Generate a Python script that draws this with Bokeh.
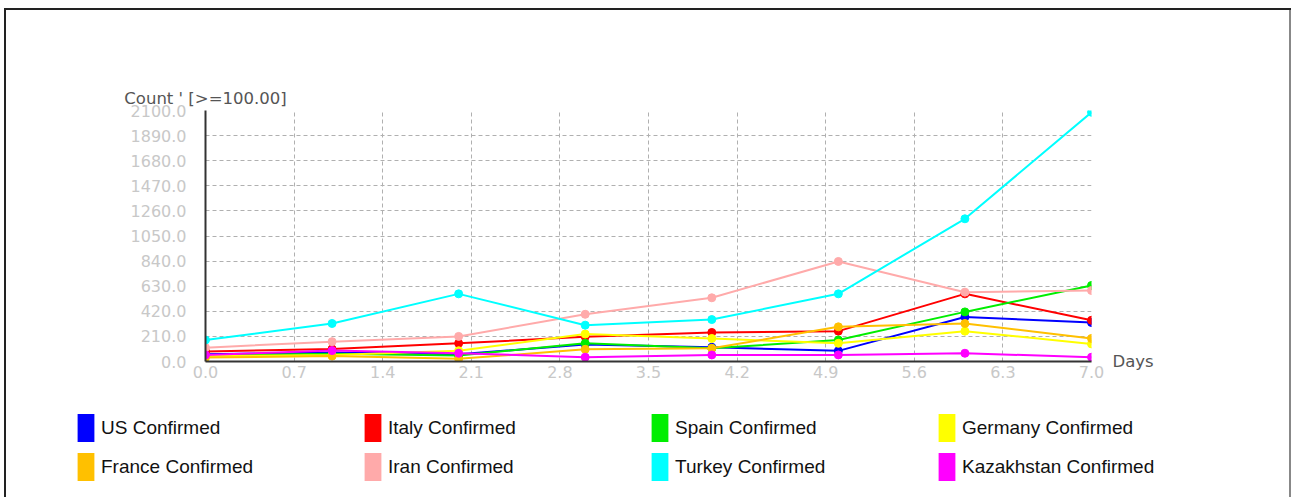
from bokeh.plotting import figure
from bokeh.layouts import column
from bokeh.models import (FixedTicker, NumeralTickFormatter, Legend, LegendItem, LinearAxis)
from bokeh.embed import file_html
from bokeh.resources import INLINE

days = [0, 1, 2, 3, 4, 5, 6, 7]
series_names = ["US Confirmed", "Italy Confirmed", "Spain Confirmed", "Germany Confirmed",
                "France Confirmed", "Iran Confirmed", "Turkey Confirmed", "Kazakhstan Confirmed"]
us = [60, 75, 60, 143, 119, 89, 373, 326]
italy = [83, 105, 152, 207, 243, 254, 566, 345]
spain = [50, 65, 50, 152, 110, 180, 415, 636]
germany = [45, 55, 90, 230, 193, 152, 254, 147]
france = [33, 45, 22, 102, 110, 290, 318, 193]
iran = [116, 166, 210, 395, 533, 837, 580, 594]
turkey = [180, 318, 566, 304, 351, 566, 1194, 2085]
kazakhstan = [55, 91, 69, 36, 55, 55, 69, 36]
colors = ["#0000ff", "#ff0000", "#00ee00", "#ffff00", "#ffc000", "#ffaaaa", "#00ffff", "#ff00ff"]
y_ticks = [0, 210, 420, 630, 840, 1050, 1260, 1470, 1680, 1890, 2100]
x_ticks = [0.0, 0.7, 1.4, 2.1, 2.8, 3.5, 4.2, 4.9, 5.6, 6.3, 7.0]
y_title = "Count ' [>=100.00]"
x_title = "Days"

AXFONT = "DejaVu Sans"
LGFONT = "Liberation Sans"

p = figure(width=1291, height=400, output_backend="svg", toolbar_location=None,
           x_range=(0, 7), y_range=(0, 2100),
           min_border_left=205, min_border_right=200, min_border_top=110, min_border_bottom=39)
p.outline_line_color = None
p.background_fill_color = "white"
p.border_fill_alpha = 0
p.frame_align = False

for ax in (p.xaxis[0], p.yaxis[0]):
    ax.major_tick_line_color = None
    ax.minor_tick_line_color = None
    ax.major_tick_out = 0
    ax.major_tick_in = 0
    ax.axis_line_color = "#333333"
    ax.axis_line_width = 2
    ax.major_label_text_color = "#c8c8c8"
    ax.major_label_text_font = AXFONT
    ax.major_label_text_font_size = "16px"
    ax.formatter = NumeralTickFormatter(format="0.0")
p.xaxis.ticker = FixedTicker(ticks=x_ticks)
p.yaxis.ticker = FixedTicker(ticks=y_ticks)
p.xaxis.major_label_standoff = 4
p.yaxis.major_label_standoff = 19

for g in (p.xgrid[0], p.ygrid[0]):
    g.grid_line_color = "#b0b0b0"
    g.grid_line_dash = "4 3"
    g.grid_line_width = 1

# axis titles as single-tick axes
top_axis = LinearAxis(ticker=FixedTicker(ticks=[0]), major_label_overrides={0: y_title},
                      axis_line_color=None, major_tick_line_color=None, minor_tick_line_color=None,
                      major_tick_out=0, major_tick_in=0,
                      major_label_text_font=AXFONT, major_label_text_font_size="16.5px",
                      major_label_text_color="#555555", major_label_standoff=3)
p.add_layout(top_axis, "above")
right_axis = LinearAxis(ticker=FixedTicker(ticks=[0]), major_label_overrides={0: x_title},
                        axis_line_color=None, major_tick_line_color=None, minor_tick_line_color=None,
                        major_tick_out=0, major_tick_in=0,
                        major_label_text_font=AXFONT, major_label_text_font_size="16.5px",
                        major_label_text_color="#555555", major_label_standoff=21)
p.add_layout(right_axis, "right")

all_series = [us, italy, spain, germany, france, iran, turkey, kazakhstan]
for name, vals, c in zip(series_names, all_series, colors):
    p.line(days, vals, line_color=c, line_width=2)
    p.scatter(days, vals, size=8, fill_color=c, line_color=c)

# legend figure
p2 = figure(width=1291, height=97, output_backend="svg", toolbar_location=None,
            x_range=(0, 1), y_range=(0, 1), x_axis_type=None, y_axis_type=None, min_border=0)
p2.outline_line_color = None
p2.background_fill_alpha = 0
p2.border_fill_alpha = 0
p2.xgrid.visible = False
p2.ygrid.visible = False
p2.frame_align = False

nan = float("nan")
legend_items = []
for name, c in zip(series_names, colors):
    gr = p2.quad(left=[nan], right=[nan], top=[nan], bottom=[nan], fill_color=c, line_color=None)
    legend_items.append(LegendItem(label=name, renderers=[gr]))

legend = Legend(items=legend_items, location=(75, 13), orientation="horizontal",
                ncols=4, glyph_width=21, glyph_height=35, label_standoff=5,
                label_width=257, spacing=4, padding=0, margin=0,
                label_text_font=LGFONT, label_text_font_size="19px", label_text_color="#111111",
                border_line_color=None, background_fill_alpha=0)
p2.add_layout(legend, "center")

layout = column(p, p2, spacing=0)
layout.styles = {"box-shadow": "inset 4px 0 0 0 #fff, inset 0 8px 0 0 #fff, "
                               "inset 6px 0 0 0 #222, inset 0 10px 0 0 #222, inset -2px 0 0 0 #888",
                 "background": "white"}

open("out.html", "w").write(file_html(layout, INLINE))
